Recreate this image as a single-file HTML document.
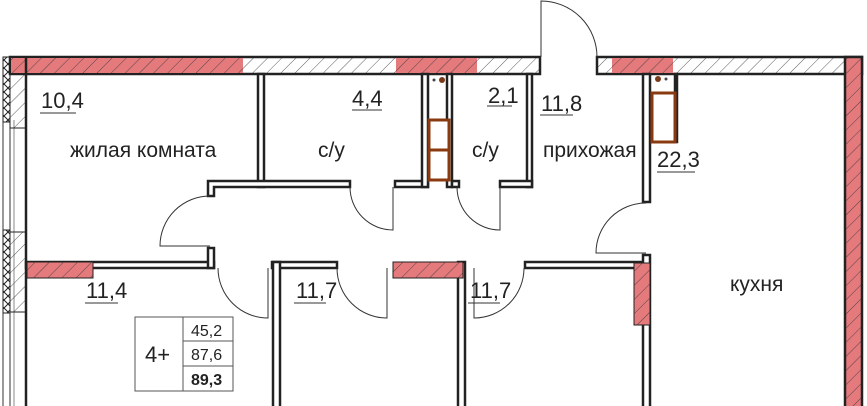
<!DOCTYPE html>
<html><head><meta charset="utf-8"><style>
html,body{margin:0;padding:0;background:#fff;}
svg{display:block;}
text{font-family:"Liberation Sans",Arial,sans-serif;fill:#222;}
</style></head><body>
<svg width="867" height="406" viewBox="0 0 867 406" xmlns="http://www.w3.org/2000/svg">
<defs>
<pattern id="h" width="10" height="10" patternUnits="userSpaceOnUse" patternTransform="rotate(45)">
<line x1="0" y1="0" x2="0" y2="10" stroke="#333" stroke-width="0.8"/></pattern>
<pattern id="x" width="8" height="8" patternUnits="userSpaceOnUse">
<path d="M0 0L8 8M8 0L0 8" stroke="#222" stroke-width="1"/></pattern>
</defs>
<!-- top wall left -->
<rect x="10" y="57" width="530" height="17" fill="#fff" stroke="#222" stroke-width="2.5"/>
<rect x="11" y="58" width="232" height="15" fill="#e57a7d"/>
<rect x="396" y="58" width="81" height="15" fill="#e57a7d"/>
<rect x="11" y="58" width="528" height="15" fill="url(#h)"/>
<!-- top wall right -->
<rect x="597" y="57" width="265" height="17" fill="#fff" stroke="#222" stroke-width="2.5"/>
<rect x="612" y="58" width="61" height="15" fill="#e57a7d"/>
<rect x="598" y="58" width="263" height="15" fill="url(#h)"/>
<!-- right wall -->
<rect x="845" y="57" width="17" height="360" fill="#e57a7d" stroke="#222" stroke-width="2.5"/>
<rect x="846" y="58" width="15" height="350" fill="url(#h)"/>
<!-- left wall -->
<line x1="3" y1="57" x2="3" y2="406" stroke="#333" stroke-width="1"/>
<line x1="10" y1="57" x2="10" y2="406" stroke="#333" stroke-width="1"/>
<line x1="14" y1="120" x2="14" y2="406" stroke="#888" stroke-width="1"/>
<line x1="26" y1="57" x2="26" y2="406" stroke="#222" stroke-width="2.5"/>
<rect x="3" y="57" width="7" height="65" fill="url(#x)" stroke="#222"/>
<rect x="3" y="230" width="7" height="83" fill="url(#x)" stroke="#222"/>
<rect x="10" y="74" width="16" height="54" fill="url(#h)" stroke="#222"/>
<rect x="10" y="232" width="16" height="80" fill="url(#h)" stroke="#222"/>
<!-- interior walls -->
<g fill="#fff" stroke="#222" stroke-width="2.5">
<rect x="258" y="74" width="6" height="113"/>
<path d="M208 196 V181 H350 V187 H214 V196 Z"/>
<rect x="395" y="181" width="33" height="6"/>
<rect x="422" y="74" width="6" height="113"/>
<rect x="447" y="74" width="5" height="113"/>
<rect x="452" y="181" width="7" height="6"/>
<rect x="527" y="74" width="5" height="113"/>
<rect x="500" y="181" width="32" height="6"/>
<rect x="643" y="74" width="7" height="128"/>
<rect x="675" y="74" width="2" height="68"/>
<rect x="26" y="262" width="188" height="6"/>
<rect x="208" y="248" width="6" height="20"/>
<rect x="272" y="262" width="65" height="6"/>
<rect x="273" y="262" width="7" height="150"/>
<rect x="458" y="262" width="7" height="150"/>
<rect x="525" y="262" width="118" height="6"/>
<rect x="643" y="255" width="7" height="157"/>
</g>
<rect x="27" y="262" width="66" height="16" fill="#e57a7d" stroke="#222" stroke-width="1"/>
<rect x="27" y="262" width="66" height="16" fill="url(#h)"/>
<rect x="393" y="262" width="70" height="16" fill="#e57a7d" stroke="#222" stroke-width="1"/>
<rect x="393" y="262" width="70" height="16" fill="url(#h)"/>
<rect x="634" y="263" width="16" height="62" fill="#e57a7d" stroke="#222" stroke-width="1"/>
<rect x="634" y="263" width="16" height="62" fill="url(#h)"/>
<!-- fixtures -->
<g fill="none" stroke="#8a3a10" stroke-width="3">
<rect x="429" y="120" width="20" height="60" fill="#fff"/>
<line x1="429" y1="150" x2="449" y2="150"/>
<rect x="652" y="93" width="23" height="49" fill="#fff"/>
</g>
<circle cx="442" cy="80" r="3" fill="#7a3a1a"/><circle cx="434" cy="80" r="1.5" fill="#444"/>
<circle cx="658" cy="79" r="3" fill="#7a3a1a"/><circle cx="666" cy="79" r="1.5" fill="#444"/>
<!-- doors -->
<g fill="none" stroke="#333" stroke-width="1">
<path d="M541 57 V1 A56 56 0 0 1 597 57"/>
<path d="M210 246 H160 A50 50 0 0 1 210 196"/>
<path d="M268 268 V318 A50 50 0 0 1 218 268"/>
<path d="M393 187 V230 A43 43 0 0 1 350 187"/>
<path d="M387 268 V318 A50 50 0 0 1 337 268"/>
<path d="M500 187 V230 A43 43 0 0 1 457 187"/>
<path d="M474 268 V318 A50 50 0 0 0 524 268"/>
<path d="M646 253 H596 A50 50 0 0 1 646 203"/>
</g>
<!-- labels -->
<g font-size="22">
<text x="41" y="108">10,4</text>
<text x="352" y="106">4,4</text>
<text x="488" y="103">2,1</text>
<text x="541" y="111">11,8</text>
<text x="657" y="167">22,3</text>
<text x="86" y="298">11,4</text>
<text x="296" y="298">11,7</text>
<text x="470" y="298">11,7</text>
</g>
<g stroke="#333" stroke-width="1">
<line x1="40" y1="113" x2="76" y2="113"/>
<line x1="352" y1="110" x2="382" y2="110"/>
<line x1="487" y1="106" x2="512" y2="106"/>
<line x1="540" y1="115" x2="573" y2="115"/>
<line x1="657" y1="172" x2="695" y2="172"/>
<line x1="85" y1="303" x2="118" y2="303"/>
<line x1="294" y1="303" x2="326" y2="303"/>
<line x1="468" y1="303" x2="500" y2="303"/>
</g>
<g font-size="21">
<text x="70" y="157">жилая комната</text>
<text x="318" y="157">с/у</text>
<text x="472" y="157">с/у</text>
<text x="543" y="157">прихожая</text>
<text x="730" y="291">кухня</text>
</g>
<!-- table -->
<g fill="none" stroke="#555" stroke-width="1">
<rect x="135" y="317" width="98" height="74"/>
<line x1="183" y1="317" x2="183" y2="391"/>
<line x1="183" y1="341" x2="233" y2="341"/>
<line x1="183" y1="366" x2="233" y2="366"/>
</g>
<text x="145" y="362" font-size="22">4+</text>
<text x="191" y="336" font-size="16" fill="#444">45,2</text>
<text x="191" y="360" font-size="16" fill="#444">87,6</text>
<text x="191" y="385" font-size="16" font-weight="bold">89,3</text>
</svg>
</body></html>
